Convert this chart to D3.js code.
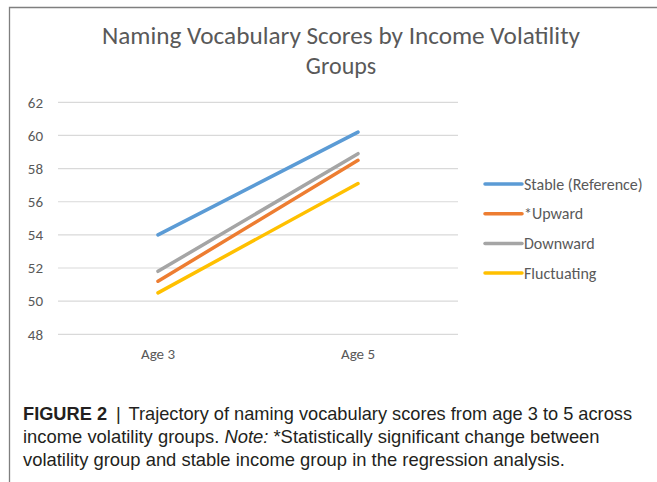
<!DOCTYPE html>
<html>
<head>
<meta charset="utf-8">
<script src="https://cdn.jsdelivr.net/npm/d3@7"></script>
<style>
  body { margin: 0; background: #fff; }
  svg { display: block; }
</style>
</head>
<body>
<div id="chart"></div>
<script>
// chart data
const ages = ["Age 3", "Age 5"];
const groups = ["Stable (Reference)", "*Upward", "Downward", "Fluctuating"];
const stable = [54.0, 60.2];
const upward = [51.2, 58.5];
const downward = [51.8, 58.9];
const fluctuating = [50.5, 57.1];
const yTicks = [48, 50, 52, 54, 56, 58, 60, 62];
const colors = ["#5B9BD5", "#ED7D31", "#A5A5A5", "#FFC000"];

const seriesValues = [stable, upward, downward, fluctuating];
const series = groups.map((name, i) => ({ name, color: colors[i], values: seriesValues[i] }));

const width = 657, height = 482;
const svg = d3.select("#chart").append("svg")
    .attr("width", width)
    .attr("height", height);

// frame around figure
svg.append("path")
    .attr("d", "M9.5,482 V7.5 H657")
    .attr("fill", "none")
    .attr("stroke", "#7f7f7f")
    .attr("stroke-width", 1.3);

const textFont = "Carlito, Calibri, Lato, 'Open Sans', sans-serif";
const textColor = "#595959";

// title
const title = svg.append("text")
    .attr("text-anchor", "middle")
    .attr("font-family", textFont)
    .attr("font-size", 24)
    .attr("fill", textColor);
title.append("tspan").attr("x", 341).attr("y", 44)
    .attr("textLength", 478).attr("lengthAdjust", "spacingAndGlyphs")
    .text("Naming Vocabulary Scores by Income Volatility");
title.append("tspan").attr("x", 341).attr("y", 74).text("Groups");

const x = d3.scaleBand().domain(ages).range([58, 458]);
const y = d3.scaleLinear().domain([48, 62]).range([334.3, 102.3]);

// gridlines
svg.append("g")
    .selectAll("line")
    .data(yTicks)
    .enter()
    .append("line")
    .attr("x1", 58)
    .attr("x2", 458)
    .attr("y1", d => y(d))
    .attr("y2", d => y(d))
    .attr("stroke", "#d9d9d9")
    .attr("stroke-width", 1.2);

// y axis labels
const yAxis = svg.append("g")
    .attr("transform", "translate(45,0)")
    .call(d3.axisLeft(y).tickValues(yTicks).tickSize(0).tickPadding(2));
yAxis.select(".domain").remove();
yAxis.attr("font-family", textFont).attr("font-size", 15);
yAxis.selectAll("text").attr("fill", textColor);

// x axis labels
const xAxis = svg.append("g")
    .attr("transform", "translate(0,345)")
    .call(d3.axisBottom(x).tickSize(0).tickPadding(3));
xAxis.select(".domain").remove();
xAxis.attr("font-family", textFont).attr("font-size", 15);
xAxis.selectAll("text").attr("fill", textColor);

// lines
const line = d3.line()
    .x((d, i) => x(ages[i]) + x.bandwidth() / 2)
    .y(d => y(d));

const drawOrder = [3, 1, 2, 0];
svg.append("g")
    .selectAll("path")
    .data(drawOrder.map(i => series[i]))
    .enter()
    .append("path")
    .attr("d", d => line(d.values))
    .attr("fill", "none")
    .attr("stroke", d => d.color)
    .attr("stroke-width", 3.5)
    .attr("stroke-linecap", "round");

// legend
const legend = svg.append("g")
    .attr("transform", "translate(485,184)")
    .selectAll("g")
    .data(series)
    .enter()
    .append("g")
    .attr("transform", (d, i) => "translate(0," + (i * 29.7) + ")");
legend.append("line")
    .attr("x1", 0)
    .attr("x2", 37)
    .attr("stroke", d => d.color)
    .attr("stroke-width", 3.5)
    .attr("stroke-linecap", "round");
legend.append("text")
    .attr("x", 39)
    .attr("dy", "0.35em")
    .attr("font-family", textFont)
    .attr("font-size", 16)
    .attr("fill", textColor)
    .text(d => d.name);

// caption
const capFont = "'Liberation Sans Narrow', 'Liberation Sans', Arial, sans-serif";
const cap = svg.append("g")
    .attr("font-family", capFont)
    .attr("font-size", 18.4)
    .attr("fill", "#231f20");

const l1 = cap.append("text").attr("x", 23).attr("y", 420)
    .attr("textLength", 609).attr("lengthAdjust", "spacingAndGlyphs");
l1.append("tspan").attr("font-weight", "bold").text("FIGURE 2");
l1.append("tspan").attr("dx", 4).text(" | ");
l1.append("tspan").attr("dx", 3).text("Trajectory of naming vocabulary scores from age 3 to 5 across");

const l2 = cap.append("text").attr("x", 23).attr("y", 443);
l2.append("tspan").text("income volatility groups. ");
l2.append("tspan").attr("font-style", "italic").text("Note:");
l2.append("tspan").text(" *Statistically significant change between");

cap.append("text").attr("x", 23).attr("y", 466)
    .text("volatility group and stable income group in the regression analysis.");
</script>
</body>
</html>
